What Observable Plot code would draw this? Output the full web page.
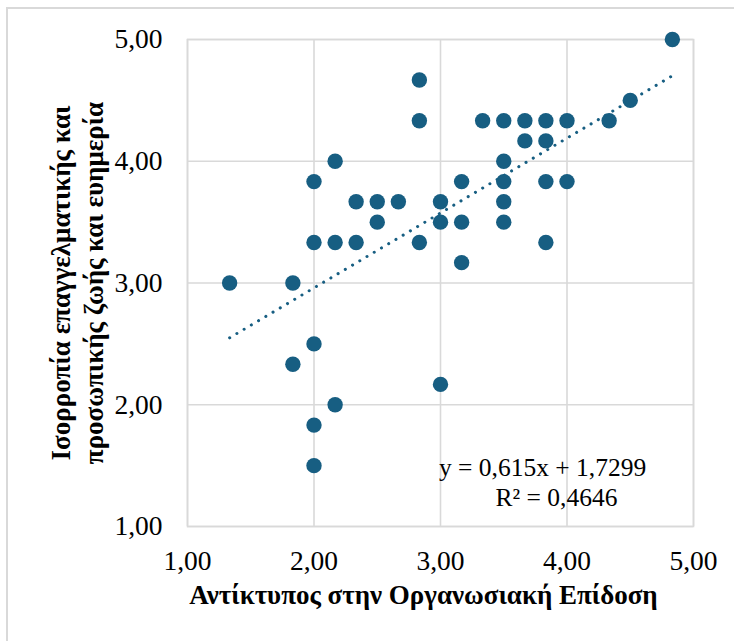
<!DOCTYPE html>
<html>
<head>
<meta charset="utf-8">
<script src="https://cdn.jsdelivr.net/npm/d3@7"></script>
<script src="https://cdn.jsdelivr.net/npm/@observablehq/plot@0.6"></script>
<style>
  html, body { margin: 0; padding: 0; background: #fff; overflow: hidden; }
  #wrap { position: relative; width: 734px; height: 641px; }
  #border { position: absolute; left: 6px; top: 7px; width: 800px; height: 800px;
            border-left: 2px solid #d9d9d9; border-top: 2px solid #d9d9d9; }
  #chart { position: absolute; left: 0; top: 0; }
</style>
</head>
<body>
<div id="wrap"><div id="border"></div><div id="chart"></div></div>
<script>
// Data
const xValues = [1.333, 1.833, 1.833, 2.000, 2.000, 2.000, 2.000, 2.000, 2.167, 2.167, 2.167,
  2.333, 2.333, 2.500, 2.500, 2.667, 2.833, 2.833, 2.833, 3.000, 3.000, 3.000,
  3.167, 3.167, 3.167, 3.333, 3.500, 3.500, 3.500, 3.500, 3.500, 3.667, 3.667,
  3.833, 3.833, 3.833, 3.833, 4.000, 4.000, 4.333, 4.500, 4.833];
const yValues = [3.000, 3.000, 2.333, 3.833, 3.333, 2.500, 1.833, 1.500, 4.000, 3.333, 2.000,
  3.667, 3.333, 3.667, 3.500, 3.667, 4.667, 4.333, 3.333, 3.667, 3.500, 2.167,
  3.833, 3.500, 3.167, 4.333, 4.333, 4.000, 3.833, 3.667, 3.500, 4.333, 4.167,
  4.333, 4.167, 3.833, 3.333, 4.333, 3.833, 4.333, 4.500, 5.000];
const tickValues = [1, 2, 3, 4, 5];
const trendSlope = 0.615;
const trendIntercept = 1.7299;
const trendRange = [1.333, 4.833];
const equationLine1 = "y = 0,615x + 1,7299";
const equationLine2 = "R² = 0,4646";
const xTitle = "Αντίκτυπος στην Οργανωσιακή Επίδοση";
const yTitle = "Ισορροπία επαγγελματικής και\nπροσωπικής ζωής και ευημερία";

const points = xValues.map((x, i) => ({x, y: yValues[i]}));
const trend = trendRange.map(x => ({x, y: trendSlope * x + trendIntercept}));
const fmt = d => d.toFixed(2).replace(".", ",");
const serif = "Liberation Serif, Times New Roman, serif";
const dotColor = "#175e82";
const gridColor = "#d9d9d9";

const chart = Plot.plot({
  width: 734,
  height: 641,
  marginLeft: 187,
  marginRight: 41,
  marginTop: 39,
  marginBottom: 115,
  style: {fontFamily: serif, fontSize: "27px", color: "#000", background: "transparent"},
  x: {domain: [1, 5]},
  y: {domain: [1, 5]},
  marks: [
    Plot.gridX(tickValues, {stroke: gridColor, strokeOpacity: 1, strokeWidth: 1.6}),
    Plot.gridY(tickValues, {stroke: gridColor, strokeOpacity: 1, strokeWidth: 1.6}),
    Plot.frame({stroke: gridColor, strokeWidth: 1.6}),
    Plot.axisX(tickValues, {tickSize: 0, tickPadding: 24, tickFormat: fmt, label: null, fontSize: 27.5, fontFamily: serif}),
    Plot.axisY(tickValues, {tickSize: 0, tickPadding: 25, tickFormat: fmt, label: null, fontSize: 27.5, fontFamily: serif}),
    Plot.dot(points, {x: "x", y: "y", r: 7.7, fill: dotColor, stroke: "none"}),
    Plot.line(trend, {x: "x", y: "y", stroke: dotColor, strokeWidth: 3, strokeDasharray: "0.1 8.3", strokeLinecap: "round"}),
    Plot.text([equationLine1], {text: d => d, frameAnchor: "bottom-right", dx: -151, dy: -59, textAnchor: "middle", lineAnchor: "middle", fontSize: 25.5, fontFamily: serif}),
    Plot.text([equationLine2], {text: d => d, frameAnchor: "bottom-right", dx: -137, dy: -29, textAnchor: "middle", lineAnchor: "middle", fontSize: 25.5, fontFamily: serif}),
    Plot.text([xTitle], {text: d => d, frameAnchor: "bottom", dx: -17, dy: 69, textAnchor: "middle", lineAnchor: "middle", fontWeight: "bold", fontSize: 27, fontFamily: serif}),
    Plot.text([yTitle], {text: d => d, frameAnchor: "left", rotate: -90, dx: -112, dy: 0, textAnchor: "middle", lineAnchor: "middle", fontWeight: "bold", fontSize: 27, lineHeight: 1.22, fontFamily: serif})
  ]
});
document.getElementById("chart").appendChild(chart);
</script>
</body>
</html>
